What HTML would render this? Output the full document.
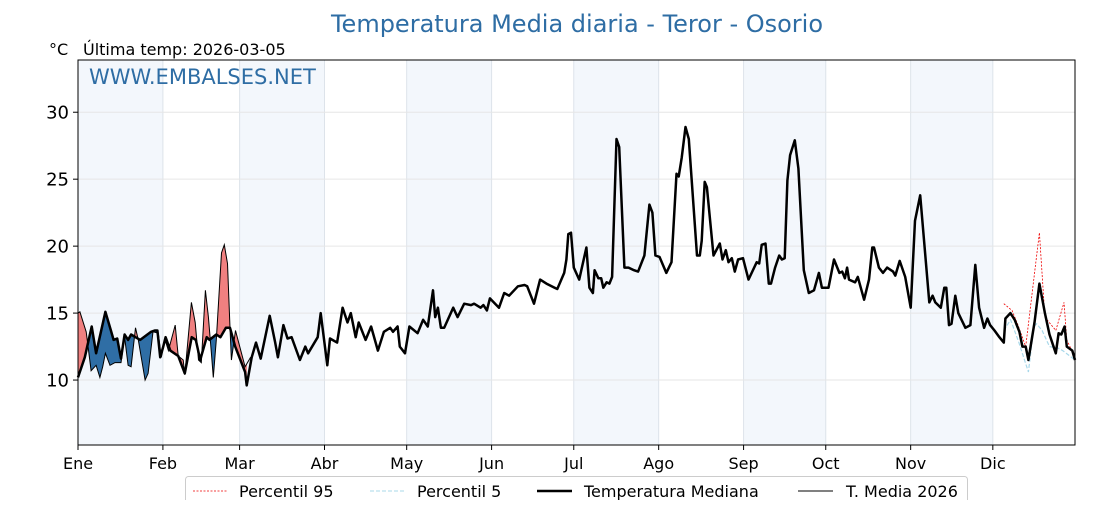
<!DOCTYPE html>
<html><head><meta charset="utf-8"><style>
body{margin:0;background:#fff;}
svg text{font-family:"DejaVu Sans","Liberation Sans",sans-serif;}
</style></head><body>
<svg id="chart" width="1120" height="500" xmlns="http://www.w3.org/2000/svg">
<text x="577" y="32" text-anchor="middle" font-size="24" fill="#2e6da4">Temperatura Media diaria - Teror - Osorio</text>
<text x="49" y="55" font-size="16" fill="#000">°C</text>
<text x="83" y="55" font-size="16" fill="#000">Última temp: 2026-03-05</text>
<g id="bands"></g><g id="grid"></g><g id="fills"></g><g id="lines"></g>
<text x="89" y="84" font-size="21" fill="#2e6da4">WWW.EMBALSES.NET</text>
<rect x="78" y="60" width="997" height="385" fill="none" stroke="#000" stroke-width="1"/>
<g id="axes"></g>
<g>
<rect x="185.5" y="476.5" width="782" height="30" rx="3" fill="#fff" stroke="#ccc"/>
<line x1="193" y1="491" x2="228" y2="491" stroke="#e00" stroke-width="0.8" stroke-dasharray="2,1.5"/>
<text x="239" y="497" font-size="16">Percentil 95</text>
<line x1="370" y1="491" x2="405" y2="491" stroke="#a8d8ea" stroke-width="1" stroke-dasharray="4,2"/>
<text x="417" y="497" font-size="16">Percentil 5</text>
<line x1="537" y1="491" x2="572" y2="491" stroke="#000" stroke-width="2.5"/>
<text x="584" y="497" font-size="16">Temperatura Mediana</text>
<line x1="798" y1="491" x2="833" y2="491" stroke="#000" stroke-width="1"/>
<text x="846" y="497" font-size="16">T. Media 2026</text>
</g>
</svg>
<script>
const monthLabels=["Ene","Feb","Mar","Abr","May","Jun","Jul","Ago","Sep","Oct","Nov","Dic"];
const monthStartDays=[0,31,59,90,120,151,181,212,243,273,304,334];
const yTicks=[10,15,20,25,30];
const medDays=[0,2.5,5,6.6,10,12,13,14.3,15.7,17,18.3,19.4,21,22.7,26.7,28,29,30,31,32,33.7,36.6,39,41.5,43,44.6,47,48,50.5,52,54,55.5,57.4,61,61.6,63.4,65,66.7,70,72,73,75,76.5,78,81,83,84,87.5,88.6,91,92,94.6,96.6,98.4,99.6,101.4,102.5,105,107,109.5,111.7,114,115,116.7,117.5,119.4,121,124,126,127.7,129.6,130.4,131.4,132.5,133.7,137,138.6,141,143.5,144.6,147,148,149.3,150.4,153.7,155.6,157.4,160.6,163,164,166.5,168.7,171,174,175,177.5,178.3,179,180,181,183,185.6,186.7,188,188.6,190,191,191.8,193,194,195,196.6,197.6,199.5,201,203,204.5,206.8,208.6,209.7,210.8,212.3,214.8,216.7,218.5,219.3,220.4,221.8,223,226,227,227.7,228.8,229.6,232,234.3,235.3,236.5,237.5,238.7,239.8,241,242.8,244.8,247.8,248.7,249.6,251,252.2,253,254.5,256,257,258,259,260,261.7,263,265,266.8,268.7,270.5,271.6,274,276,278,279,280,280.8,281.5,283.7,284.7,287,288.8,290,290.6,292.4,293.9,295.4,297.6,298.4,300,302,304,305.6,307.5,310.8,312,313,315,316.3,317,318,318.9,320.3,321.4,324,325.8,327.6,329,330.8,332,333,334.6,336.4,338,338.6,340.4,342,343.7,344.8,346,347,349.2,351,353,354.7,357,358,359,360.2,361,363,364];
const medVals=[10.2,11.7,14.0,12.0,15.1,13.7,13.0,13.1,11.6,13.4,13.0,13.4,13.2,13.0,13.6,13.7,13.7,11.7,12.4,13.2,12.2,11.8,10.5,13.2,13.0,11.5,13.2,13.0,13.4,13.2,13.9,13.9,12.5,10.6,9.6,11.7,12.8,11.6,14.8,12.8,11.7,14.1,13.1,13.2,11.5,12.5,12.0,13.2,15.0,11.1,13.1,12.8,15.4,14.3,15.0,13.2,14.3,13.0,14.0,12.2,13.6,13.9,13.6,14.0,12.5,12.0,14.0,13.5,14.5,14.0,16.7,14.7,15.4,13.9,13.9,15.4,14.7,15.7,15.6,15.7,15.4,15.6,15.2,16.1,15.4,16.5,16.3,17.0,17.1,17.0,15.7,17.5,17.2,16.9,16.8,18.0,19.0,20.9,21.0,18.4,17.5,19.9,16.9,16.5,18.2,17.6,17.6,16.9,17.3,17.2,17.7,28.0,27.4,18.4,18.4,18.2,18.1,19.3,23.1,22.5,19.3,19.2,18.0,18.8,25.4,25.2,26.6,28.9,28.0,19.3,19.3,20.4,24.8,24.4,19.3,20.2,19.0,19.7,18.8,19.1,18.1,19.0,19.1,17.5,18.8,18.7,20.1,20.2,17.2,17.2,18.4,19.3,19.0,19.1,24.9,26.8,27.9,25.8,18.2,16.5,16.7,18.0,16.9,16.9,19.0,18.0,18.1,17.6,18.4,17.5,17.3,17.7,16.0,17.5,19.9,19.9,18.4,18.0,18.4,18.1,17.8,18.9,17.7,15.4,21.9,23.8,15.8,16.3,15.8,15.4,16.9,16.9,14.1,14.2,16.3,15.0,13.9,14.1,18.6,15.4,13.9,14.6,14.1,13.7,13.2,12.8,14.6,15.0,14.5,13.6,12.5,12.5,11.5,14.3,17.2,15.0,13.4,12.0,13.5,13.4,14.0,12.5,12.2,11.5];
const curDays=[0,0.7,3,4.8,6.6,8,9,10,11.7,13.5,15.7,17,18.3,19.4,21,22,24.5,25.6,27.4,29.3,30.4,31.8,33,35.5,36.6,38.4,39,41.4,42.8,44,45,46.5,47.6,48.7,49.4,50.5,52.4,53.4,54.6,55.5,56,57.5,59.7,61,63];
const curVals=[15.0,15.1,13.6,10.7,11.1,10.2,11.0,12.0,11.1,11.3,11.3,13.2,11.1,11.0,13.9,13.0,10.0,10.5,13.6,13.5,11.7,13.0,12.2,14.1,11.8,11.5,10.4,15.8,14.3,11.5,11.3,16.7,14.7,12.0,10.2,13.0,19.5,20.1,18.7,13.9,11.5,13.7,12.0,11.0,11.7];
const p95Days=[338,341,343,346,351,353,357,360,361,364];
const p95Vals=[15.7,15.2,14.2,12.5,21.0,14.7,13.7,15.8,13.0,11.7];
const p5Days=[338,340.5,343.5,347,349,350,352,354.7,357.7,359.5,364];
const p5Vals=[13.7,14.5,12.8,10.6,14.0,14.2,13.7,12.5,12.4,12.2,11.5];

const NS="http://www.w3.org/2000/svg";
const X0=78,X1=1075,Y0=445,Y1=60,YMIN=5.15,YMAX=33.9,DAYS=364;
const sx=d=>X0+d/DAYS*(X1-X0);
const sy=v=>Y0-(v-YMIN)/(YMAX-YMIN)*(Y0-Y1);
function mk(tag,attrs,parent){const e=document.createElementNS(NS,tag);for(const k in attrs)e.setAttribute(k,attrs[k]);parent.appendChild(e);return e;}
const pts=(ds,vs)=>ds.map((d,i)=>sx(d).toFixed(1)+","+sy(vs[i]).toFixed(1));
const bands=document.getElementById('bands'),grid=document.getElementById('grid'),axes=document.getElementById('axes');
monthStartDays.forEach((d,i)=>{
  const end=i<11?monthStartDays[i+1]:DAYS;
  if(i%2===0){const r=mk('rect',{x:sx(d),y:Y1,width:sx(end)-sx(d),height:Y0-Y1,fill:'#f3f7fc'},bands);
    
    }
  if(i>0){const g=mk('line',{x1:sx(d),x2:sx(d),y1:Y1,y2:Y0,stroke:'#dde3ea','stroke-width':1},grid);
    
    }
  const t=mk('line',{x1:sx(d),x2:sx(d),y1:Y0,y2:Y0+5,stroke:'#000'},axes);
  
  
  const l=mk('text',{x:sx(d),y:Y0+24,'text-anchor':'middle','font-size':16},axes);
  l.textContent=monthLabels[i];
  
  
});
yTicks.forEach(v=>{
  const g=mk('line',{x1:X0,x2:X1,y1:sy(v),y2:sy(v),stroke:'#e6e6e6'},grid);
  
  
  const t=mk('line',{x1:X0-5,x2:X0,y1:sy(v),y2:sy(v),stroke:'#000'},axes);
  
  
  const l=mk('text',{x:X0-9,y:sy(v)+6.5,'text-anchor':'end','font-size':18},axes);
  l.textContent=v;
  
  
});
const fills=document.getElementById('fills');
const lastD=curDays[curDays.length-1];
const mSubD=[],mSubV=[];
medDays.forEach((d,i)=>{if(d<=lastD){mSubD.push(d);mSubV.push(medVals[i]);}});
const medPts=pts(mSubD,mSubV);
const defs=mk('defs',{},fills);
const cAbove=mk('clipPath',{id:'above'},defs);
mk('polygon',{points:[sx(0)+","+Y1,...medPts,sx(lastD)+","+Y1].join(' ')},cAbove);
const cBelow=mk('clipPath',{id:'below'},defs);
mk('polygon',{points:[sx(0)+","+Y0,...medPts,sx(lastD)+","+Y0].join(' ')},cBelow);
const between=[...pts(curDays,curVals),...medPts.slice().reverse()].join(' ');
const fr=mk('polygon',{points:between,fill:'#f08080','clip-path':'url(#above)'},fills);


const fb=mk('polygon',{points:between,fill:'#2f6ea5','clip-path':'url(#below)'},fills);


const lines=document.getElementById('lines');
const lp95=mk('polyline',{points:pts(p95Days,p95Vals).join(' '),fill:'none',stroke:'#e00','stroke-width':0.8,'stroke-dasharray':'2,1.5'},lines);


const lp5=mk('polyline',{points:pts(p5Days,p5Vals).join(' '),fill:'none',stroke:'#a8d8ea','stroke-width':1.2,'stroke-dasharray':'4,2'},lines);


const lm=mk('polyline',{points:pts(medDays,medVals).join(' '),fill:'none',stroke:'#000','stroke-width':2.5,'stroke-linejoin':'round'},lines);


const lc=mk('polyline',{points:pts(curDays,curVals).join(' '),fill:'none',stroke:'#000','stroke-width':1},lines);


</script>
</body></html>
